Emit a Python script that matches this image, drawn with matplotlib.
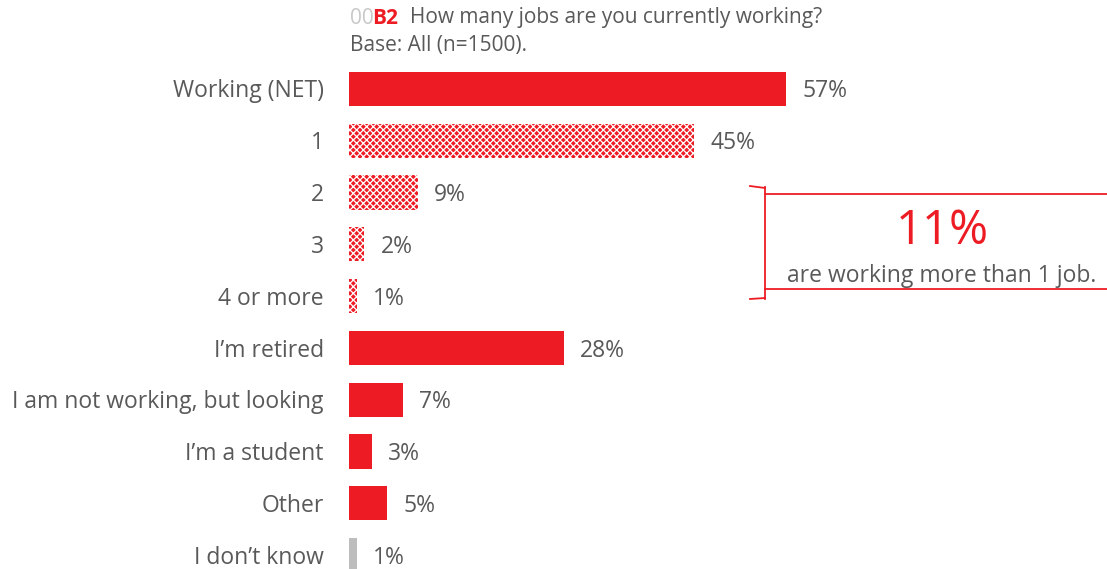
import matplotlib.pyplot as plt

plt.rcParams['font.family'] = ['Open Sans', 'DejaVu Sans']
plt.rcParams['hatch.linewidth'] = 0.9

categories = ['Working (NET)', '1', '2', '3', '4 or more', 'I\u2019m retired',
              'I am not working, but looking', 'I\u2019m a student', 'Other', 'I don\u2019t know']
values = [57, 45, 9, 2, 1, 28, 7, 3, 5, 1]
hatched = [False, True, True, True, True, False, False, False, False, False]
multi_jobs = 11

red = '#ED1C24'
grey_bar = '#BDBDBD'
txt = '#595959'

fig = plt.figure(figsize=(11.07, 5.69), dpi=100)
W, H = 1107, 569
# axes starts at the bar baseline and runs to the right edge
ax = fig.add_axes([349 / W, 0, 1 - 349 / W, 1 - 63 / H])
px_per_pct = 7.67
ax.set_xlim(0, (W - 349) / px_per_pct)
ax.set_ylim((569 - 89) / 51.8, -0.5)
ax.axis('off')

for i, (cat, v, h) in enumerate(zip(categories, values, hatched)):
    col = grey_bar if cat == 'I don\u2019t know' else red
    ax.barh(i, v, height=0.66, color=col, edgecolor='white' if h else col,
            linewidth=0, hatch='xxxxx' if h else None)
    ax.text(v + 2.1, i + 0.05, f'{v}%', va='center', ha='left', fontsize=16.5, color=txt)
    ax.text(-3.3, i + 0.05, cat, va='center', ha='right', fontsize=16.5, color=txt)

# title lines
fig.text(350 / W, 1 - 18 / H, '00', color='#C8C8C8', fontsize=15, va='center')
fig.text(372 / W, 1 - 18 / H, 'B2', color=red, fontsize=15, va='center', fontweight='bold')
fig.text(410 / W, 1 - 18 / H, 'How many jobs are you currently working?', color=txt,
         fontsize=15, va='center')
fig.text(350 / W, 1 - 46 / H, 'Base: All (n=1500).', color=txt, fontsize=15, va='center')

# bracket around the multiple-jobs rows
def fy(p):
    return 1 - p / H

def fx(p):
    return p / W

lw = 1.3
fig.add_artist(plt.Line2D([fx(765), fx(765)], [fy(187), fy(299)], color=red, lw=lw))
fig.add_artist(plt.Line2D([fx(750), fx(765)], [fy(186), fy(188)], color=red, lw=lw))
fig.add_artist(plt.Line2D([fx(750), fx(765)], [fy(299), fy(298)], color=red, lw=lw))
fig.add_artist(plt.Line2D([fx(765), fx(1107)], [fy(194), fy(194)], color=red, lw=lw))
fig.add_artist(plt.Line2D([fx(765), fx(1107)], [fy(289), fy(289)], color=red, lw=lw))

fig.text(fx(942), fy(231), f'{multi_jobs}%', color=red, fontsize=34, ha='center', va='center')
fig.text(fx(942), fy(276), 'are working more than 1 job.', color=txt, fontsize=16.5,
         ha='center', va='center')

fig.savefig('out.png', dpi=100)
